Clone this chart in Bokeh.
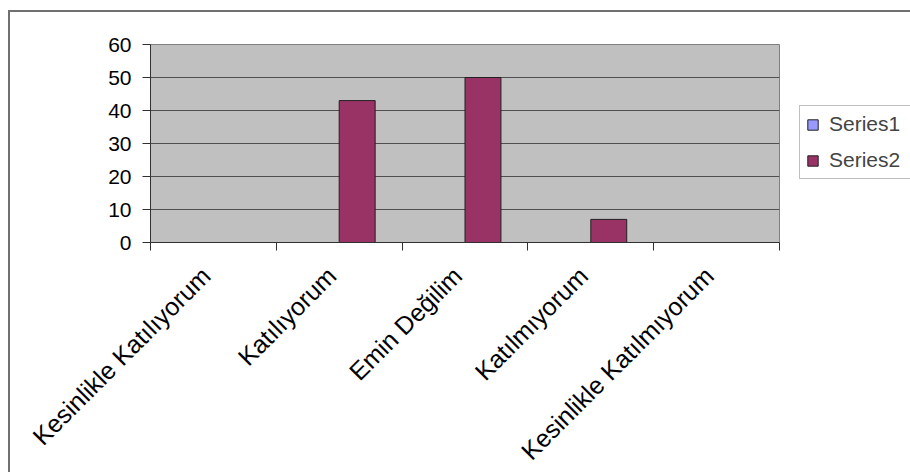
import math
import numpy as np
from bokeh.plotting import figure
from bokeh.models import Range1d, FixedTicker, Legend, LegendItem, ColumnDataSource
from bokeh.embed import file_html
from bokeh.resources import INLINE

categories = ["Kesinlikle Katılıyorum", "Katılıyorum", "Emin Değilim",
              "Katılmıyorum", "Kesinlikle Katılmıyorum"]
series1 = [0, 0, 0, 0, 0]
series2 = [0, 43, 50, 7, 0]
series_names = ["Series1", "Series2"]
series_colors = ["#9999FF", "#993366"]
y_ticks = [0, 10, 20, 30, 40, 50, 60]

FONT = "Liberation Sans"
n = len(categories)
idx = np.arange(n)
centers = idx + 0.5
bar_w = 1.0 / 3.5
label_shift = 0.06  # rotated labels end slightly left of the category centre

p = figure(frame_width=629, frame_height=198,
           min_border_left=150, min_border_right=131,
           min_border_top=44, min_border_bottom=230,
           x_range=Range1d(0, n), y_range=Range1d(0, 60),
           output_backend="svg", toolbar_location=None,
           background_fill_color="#C0C0C0",
           border_fill_color="white", border_fill_alpha=0,
           outline_line_color="#808080", outline_line_width=1)
# outer chart-area border (left and top edges visible)
p.styles = {"box-shadow": "inset 8px 10px 0 0 white, inset 10px 12px 0 0 #707070",
            "background-color": "white"}

src1 = ColumnDataSource(dict(x=centers - bar_w / 2, top=series1))
src2 = ColumnDataSource(dict(x=centers + bar_w / 2, top=series2))
r1 = p.vbar(x="x", top="top", bottom=0, width=bar_w, source=src1,
            fill_color=series_colors[0], line_color="#202020", line_width=1)
r2 = p.vbar(x="x", top="top", bottom=0, width=bar_w, source=src2,
            fill_color=series_colors[1], line_color="#202020", line_width=1)

# x axis: labels near category centres, tick marks at category boundaries
label_pos = [float(round(c - label_shift, 4)) for c in centers]
p.xaxis.ticker = FixedTicker(ticks=label_pos, minor_ticks=list(range(n + 1)))
p.xaxis.major_label_overrides = {c: lab for c, lab in zip(label_pos, categories)}
p.xaxis.major_label_orientation = math.pi / 4
p.xaxis.major_tick_out = 0
p.xaxis.major_tick_in = 0
p.xaxis.minor_tick_out = 8
p.xaxis.minor_tick_in = 0
p.xaxis.minor_tick_line_color = "#303030"
p.xaxis.axis_line_color = "#303030"
p.xaxis.major_label_text_font = FONT
p.xaxis.major_label_text_font_size = "25px"
p.xaxis.major_label_text_color = "black"
p.xaxis.major_label_standoff = 21

p.yaxis.ticker = FixedTicker(ticks=y_ticks)
p.yaxis.minor_tick_line_color = None
p.yaxis.major_tick_out = 8
p.yaxis.major_tick_in = 0
p.yaxis.major_tick_line_color = "#303030"
p.yaxis.axis_line_color = "#303030"
p.yaxis.major_label_text_font = FONT
p.yaxis.major_label_text_font_size = "21px"
p.yaxis.major_label_text_color = "black"
p.yaxis.major_label_standoff = 11

p.xgrid.grid_line_color = None
p.ygrid.grid_line_color = "#505050"
p.ygrid.grid_line_width = 1

legend = Legend(items=[LegendItem(label=series_names[0], renderers=[r1]),
                       LegendItem(label=series_names[1], renderers=[r2])],
                location=(20, 63), orientation="vertical",
                label_text_font=FONT, label_text_font_size="21px",
                glyph_width=13, glyph_height=13, label_standoff=10,
                label_height=20, label_width=82, spacing=12, padding=6, margin=0,
                border_line_color="#808080", border_line_width=1,
                background_fill_color="white", background_fill_alpha=1)
p.add_layout(legend, "right")

open("out.html", "w").write(file_html(p, INLINE))
